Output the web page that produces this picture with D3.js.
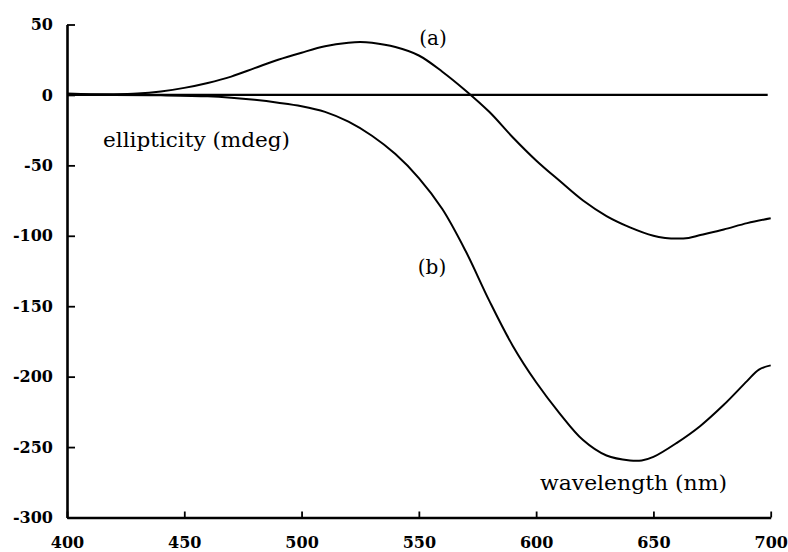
<!DOCTYPE html>
<html>
<head>
<meta charset="utf-8">
<script src="https://cdn.jsdelivr.net/npm/d3@7"></script>
<style>
  html, body { margin: 0; padding: 0; background: #fff; }
  svg { display: block; }
</style>
</head>
<body>
<svg id="chart" width="788" height="552"></svg>
<script>
// ---- data ----
const xTicks = [400, 450, 500, 550, 600, 650, 700];
const yTicks = [50, 0, -50, -100, -150, -200, -250, -300];

const wavelengthA = [400, 410, 420, 430, 440, 450, 460, 470, 480, 490, 500, 510, 520, 525, 530, 540, 550, 560, 570, 580, 590, 600, 610, 620, 630, 640, 650, 655, 660, 665, 670, 680, 690, 700];
const ellipticityA = [1, 0.5, 0.5, 1, 2.5, 5, 8.5, 13, 19, 25, 30, 34.5, 37, 37.5, 37, 34, 28, 16.5, 3, -12, -30, -46.5, -61, -75, -86, -94, -100, -101.5, -102, -101.5, -99.5, -95.5, -91, -87.5];

const wavelengthB = [400, 420, 440, 460, 470, 480, 490, 500, 510, 520, 530, 540, 550, 560, 570, 580, 590, 600, 610, 620, 630, 640, 645, 650, 660, 670, 680, 690, 695, 700];
const ellipticityB = [0.5, 0, -0.3, -1, -2, -3.5, -5.5, -8, -12, -19, -29, -42, -59, -81, -111, -146, -178, -204, -226, -245, -256, -259.5, -259.5, -257, -247, -235, -220, -203, -195, -192];

const labelA = "(a)";
const labelB = "(b)";
const yTitle = "ellipticity (mdeg)";
const xTitle = "wavelength (nm)";

// ---- layout ----
const svg = d3.select("#chart");
const mLeft = 67, mRight = 770.7, mTop = 24.5, mBottom = 517.5;

const x = d3.scaleLinear().domain([400, 700]).range([mLeft, mRight]);
const y = d3.scaleLinear().domain([-300, 50]).range([mBottom, mTop]);

const fontFamily = "'DejaVu Serif', 'Liberation Serif', serif";

// zero line
svg.append("line")
  .attr("x1", x(400)).attr("x2", x(700) - 3)
  .attr("y1", y(0)).attr("y2", y(0))
  .attr("stroke", "#000").attr("stroke-width", 2.2);

// axes
const xAxis = d3.axisBottom(x).tickValues(xTicks).tickSize(-6).tickPadding(19).tickSizeOuter(0);
const yAxis = d3.axisLeft(y).tickValues(yTicks).tickSize(-8).tickPadding(14).tickSizeOuter(0);

const gx = svg.append("g").attr("transform", `translate(0,${mBottom})`).call(xAxis);
const gy = svg.append("g").attr("transform", `translate(${mLeft},0)`).call(yAxis);

[gx, gy].forEach(g => {
  g.select(".domain").attr("stroke", "#000").attr("stroke-width", 2.6);
  g.selectAll(".tick line").attr("stroke", "#000").attr("stroke-width", 1.8);
  g.selectAll(".tick text")
    .attr("fill", "#000")
    .style("font-family", fontFamily)
    .style("font-size", "16px")
    .style("font-weight", "bold");
});
gy.selectAll(".tick text").text(d => d < 0 ? "-" + Math.abs(d) : d);

// curves
const line = d3.line()
  .x(d => x(d[0]))
  .y(d => y(d[1]))
  .curve(d3.curveCatmullRom.alpha(0.5));

const dataA = wavelengthA.map((w, i) => [w, ellipticityA[i]]);
const dataB = wavelengthB.map((w, i) => [w, ellipticityB[i]]);

svg.append("path").datum(dataA).attr("d", line)
  .attr("fill", "none").attr("stroke", "#000").attr("stroke-width", 2);
svg.append("path").datum(dataB).attr("d", line)
  .attr("fill", "none").attr("stroke", "#000").attr("stroke-width", 2);

// labels
function label(txt, px, py, anchor, len) {
  const t = svg.append("text")
    .attr("x", px).attr("y", py)
    .attr("text-anchor", anchor || "middle")
    .style("font-family", fontFamily)
    .style("font-size", "20px")
    .attr("fill", "#000")
    .text(txt);
  if (len) t.attr("textLength", len).attr("lengthAdjust", "spacingAndGlyphs");
}
label(labelA, 433, 45);
label(labelB, 432, 274);
label(yTitle, 103, 147, "start", 187);
label(xTitle, 540, 490, "start", 187);
</script>
</body>
</html>
